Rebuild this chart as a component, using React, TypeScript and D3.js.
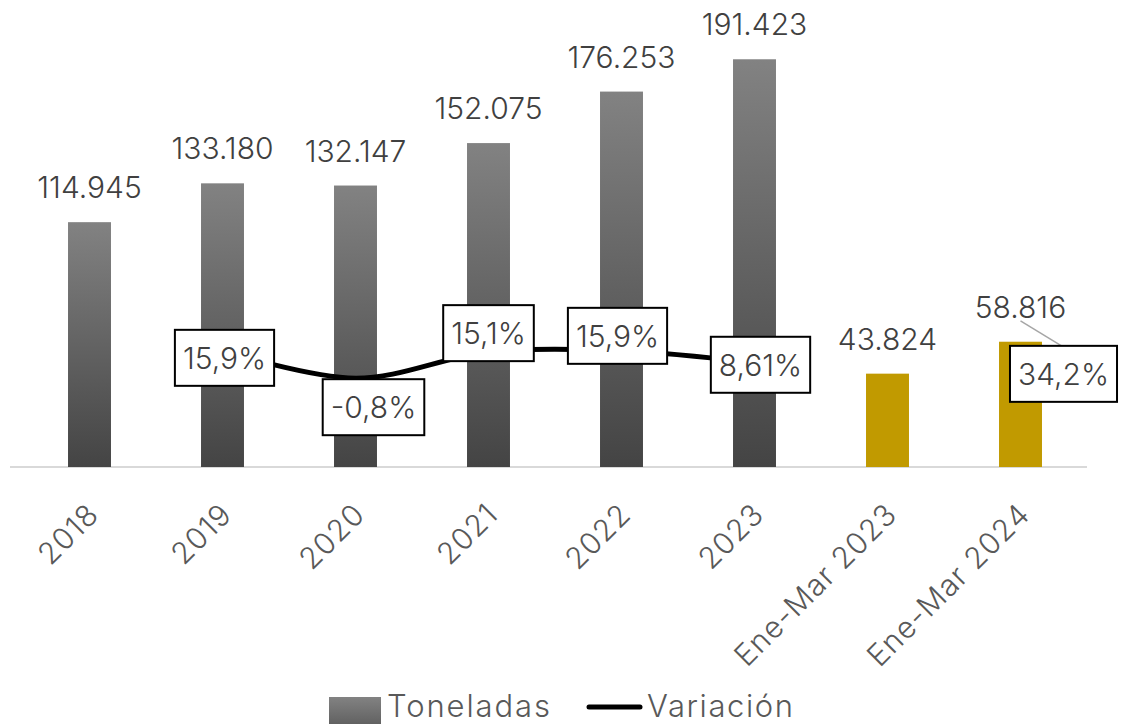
import React, { useEffect, useRef } from 'react';
import * as d3 from 'd3';

// datos
const categories = ['2018', '2019', '2020', '2021', '2022', '2023', 'Ene-Mar 2023', 'Ene-Mar 2024'];
const toneladas = [114945, 133180, 132147, 152075, 176253, 191423, 43824, 58816];
const variacion: (number | null)[] = [null, 0.159, -0.008, 0.151, 0.159, 0.0861, null, 0.342];
const variacionLabels = ['', '15,9%', '-0,8%', '15,1%', '15,9%', '8,61%', '', '34,2%'];
const periodoParcial = ['Ene-Mar 2023', 'Ene-Mar 2024'];

// desplazamiento manual de las etiquetas de la línea (como en el original)
const labelNudge: [number, number][] = [[0, 0], [2, 7], [18, 29], [0, -19], [-4, -15], [6, 2], [0, 0], [43, 53]];

const W = 1127;
const H = 724;
const FONT = 'Inter, "Noto Sans", sans-serif';

const fmtMiles = d3.formatLocale({ decimal: ',', thousands: '.', grouping: [3], currency: ['', ''] }).format(',d');

const App: React.FC = () => {
  const ref = useRef<SVGSVGElement>(null);

  useEffect(() => {
    if (!ref.current) return;
    const svg = d3.select(ref.current);
    svg.selectAll('*').remove();

    const baseY = 467;
    const x = d3.scaleBand<string>().domain(categories).range([23, 1087]).paddingInner(0.677).paddingOuter(0.3385);
    const y = d3.scaleLinear().domain([0, 200000]).range([baseY, 41]);
    const y2 = d3.scaleLinear().domain([-0.55, 2.05]).range([baseY, 41]);
    const cx = (c: string) => (x(c) as number) + x.bandwidth() / 2;

    // degradado de las barras
    const defs = svg.append('defs');
    const grad = defs.append('linearGradient').attr('id', 'grisBarra').attr('x1', 0).attr('y1', 0).attr('x2', 0).attr('y2', 1);
    grad.append('stop').attr('offset', '0%').attr('stop-color', '#828282');
    grad.append('stop').attr('offset', '100%').attr('stop-color', '#444444');

    // eje x
    svg.append('line')
      .attr('x1', 10).attr('x2', 1087)
      .attr('y1', baseY).attr('y2', baseY)
      .attr('stroke', '#d9d9d9').attr('stroke-width', 2);

    // barras
    svg.selectAll('.bar')
      .data(categories)
      .enter()
      .append('rect')
      .attr('class', 'bar')
      .attr('x', d => x(d) as number)
      .attr('width', x.bandwidth())
      .attr('y', (d, i) => y(toneladas[i]))
      .attr('height', (d, i) => baseY - y(toneladas[i]))
      .attr('fill', d => periodoParcial.includes(d) ? '#c19a00' : 'url(#grisBarra)');

    // etiquetas de las barras
    svg.selectAll('.bar-label')
      .data(categories)
      .enter()
      .append('text')
      .attr('class', 'bar-label')
      .attr('x', d => cx(d))
      .attr('y', (d, i) => y(toneladas[i]) - 24)
      .attr('text-anchor', 'middle')
      .attr('fill', '#404040')
      .style('font-family', FONT)
      .style('font-weight', 300)
      .style('font-size', '30px')
      .text((d, i) => fmtMiles(toneladas[i]));

    // etiquetas del eje x
    svg.selectAll('.x-label')
      .data(categories)
      .enter()
      .append('text')
      .attr('class', 'x-label')
      .attr('transform', d => `translate(${cx(d) - 4}, 501) rotate(-45)`)
      .attr('text-anchor', 'end')
      .attr('dy', '0.72em')
      .attr('fill', '#595959')
      .style('font-family', FONT)
      .style('font-weight', 300)
      .style('font-size', '30px')
      .style('letter-spacing', '1px')
      .text(d => d);

    // línea de variación
    const pts = categories.map((c, i) => ({ c, v: variacion[i], i }));
    const line = d3.line<typeof pts[number]>()
      .defined(d => d.v !== null)
      .x(d => cx(d.c))
      .y(d => y2(d.v as number))
      .curve(d3.curveCatmullRom.alpha(0.5));

    svg.append('path')
      .datum(pts)
      .attr('d', line)
      .attr('fill', 'none')
      .attr('stroke', '#000')
      .attr('stroke-width', 5)
      .attr('stroke-linecap', 'butt');

    // punto de la última etiqueta (para la línea guía)
    const last = pts[pts.length - 1];
    const lp: [number, number] = [cx(last.c), y2(last.v as number)];

    const labels = svg.append('g');
    pts.filter(d => d.v !== null).forEach(d => {
      const [dx, dy] = labelNudge[d.i];
      const px = cx(d.c) + dx;
      const py = y2(d.v as number) + dy;
      const g = labels.append('g');
      const rect = g.append('rect');
      const t = g.append('text')
        .attr('x', px)
        .attr('y', py)
        .attr('dy', '0.36em')
        .attr('text-anchor', 'middle')
        .attr('fill', '#404040')
        .style('font-family', FONT)
        .style('font-weight', 300)
        .style('font-size', '30px')
        .text(variacionLabels[d.i]);
      const tw = (t.node() as SVGTextElement).getComputedTextLength();
      const bw = tw + 16;
      const bh = 56;
      rect.attr('x', px - bw / 2).attr('y', py - bh / 2)
        .attr('width', bw).attr('height', bh)
        .attr('fill', '#fff').attr('stroke', '#000').attr('stroke-width', 2);
      if (d.i === last.i) {
        g.insert('line', 'rect')
          .attr('x1', lp[0]).attr('y1', lp[1])
          .attr('x2', px - 2).attr('y2', py - bh / 2)
          .attr('stroke', '#a6a6a6').attr('stroke-width', 1.5);
      }
    });

    // leyenda
    const leg = svg.append('g');
    leg.append('rect').attr('x', 329).attr('y', 697).attr('width', 52).attr('height', 52).attr('fill', 'url(#grisBarra)');
    leg.append('text').attr('x', 387).attr('y', 717)
      .attr('fill', '#595959')
      .attr('textLength', 163).attr('lengthAdjust', 'spacing')
      .style('font-family', FONT).style('font-weight', 300).style('font-size', '31px')
      .text('Toneladas');
    leg.append('line').attr('x1', 589).attr('x2', 640).attr('y1', 707).attr('y2', 707)
      .attr('stroke', '#000').attr('stroke-width', 5).attr('stroke-linecap', 'round');
    leg.append('text').attr('x', 647).attr('y', 717)
      .attr('fill', '#595959')
      .attr('textLength', 146).attr('lengthAdjust', 'spacing')
      .style('font-family', FONT).style('font-weight', 300).style('font-size', '31px')
      .text('Variación');
  }, []);

  return (
    <svg ref={ref} width={W} height={H} style={{ position: 'absolute', left: 0, top: 0, background: '#fff' }} />
  );
};

export default App;
